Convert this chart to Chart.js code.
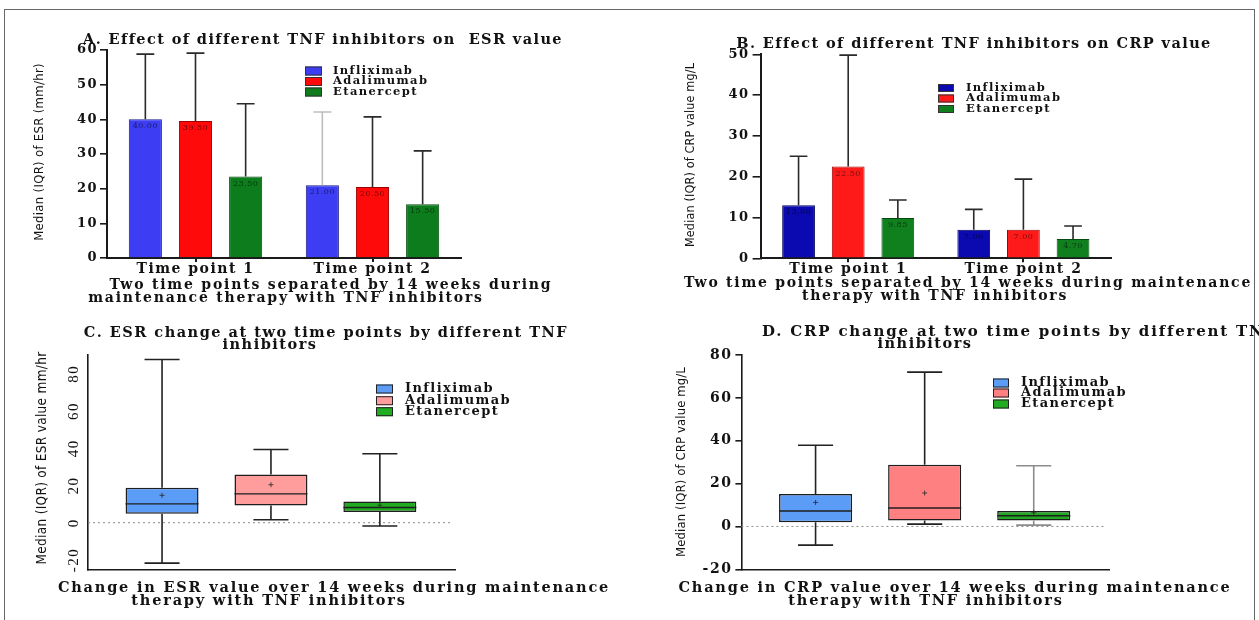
<!DOCTYPE html>
<html>
<head>
<meta charset="utf-8">
<script src="https://cdn.jsdelivr.net/npm/chart.js@4.4.1/dist/chart.umd.min.js"></script>
<style>
html, body { margin: 0; padding: 0; background: #fff; overflow: hidden; }
#page { position: relative; width: 1259px; height: 620px; overflow: hidden; }
#frame { position: absolute; left: 4px; top: 9px; width: 1251px; height: 700px; border: 1.5px solid #666; box-sizing: border-box; }
.panel { position: absolute; }
</style>
</head>
<body>
<div id="page">
  <div id="frame"></div>
  <div class="panel" style="left:0;top:0;width:620px;height:310px"><canvas id="chartA"></canvas></div>
  <div class="panel" style="left:620px;top:0;width:639px;height:310px"><canvas id="chartB"></canvas></div>
  <div class="panel" style="left:0;top:310px;width:620px;height:310px"><canvas id="chartC"></canvas></div>
  <div class="panel" style="left:620px;top:310px;width:639px;height:310px"><canvas id="chartD"></canvas></div>
</div>
<script>
// ---- data ----
var timePoints = ['Time point 1', 'Time point 2'];
var drugs = ['Infliximab', 'Adalimumab', 'Etanercept'];

// A. median ESR (mm/hr) and upper IQR end, per time point
var esrInfliximab = [40.0, 21.0];
var esrAdalimumab = [39.5, 20.5];
var esrEtanercept = [23.5, 15.5];
var esrInfliximabUpper = [58.8, 42.1];
var esrAdalimumabUpper = [59.1, 40.7];
var esrEtanerceptUpper = [44.5, 30.9];

// B. median CRP (mg/L) and upper IQR end, per time point
var crpInfliximab = [13.0, 7.0];
var crpAdalimumab = [22.5, 7.0];
var crpEtanercept = [9.85, 4.7];
var crpInfliximabUpper = [25.0, 12.0];
var crpAdalimumabUpper = [49.8, 19.4];
var crpEtanerceptUpper = [14.3, 7.9];

// C. ESR change over 14 weeks (box plots, in drug order)
var esrChangeMin    = [-21.7, 1.6, -1.8];
var esrChangeQ1     = [4.8, 9.2, 5.7];
var esrChangeMedian = [10.1, 15.5, 8.2];
var esrChangeQ3     = [18.7, 25.9, 11.4];
var esrChangeMax    = [87.6, 39.3, 37.0];
var esrChangeMean   = [14.7, 20.4, 9.4];

// D. CRP change over 14 weeks
var crpChangeMin    = [-8.7, 1.1, 0.6];
var crpChangeQ1     = [1.9, 2.8, 2.8];
var crpChangeMedian = [7.2, 8.6, 5.0];
var crpChangeQ3     = [15.1, 28.8, 7.2];
var crpChangeMax    = [37.9, 72.0, 28.3];
var crpChangeMean   = [11.2, 15.6, 6.4];

// axis ranges [min, max, step]
var esrAxis = [0, 60, 10];
var crpAxis = [0, 50, 10];
var esrChangeAxis = [-25, 90, 20];
var crpChangeAxis = [-20, 80, 20];

// ---- styles ----
var SERIF = "'DejaVu Serif', 'Liberation Serif', serif";
var NARROW = "'Liberation Sans Narrow', 'DejaVu Sans Condensed', 'Liberation Sans', sans-serif";
var INK = '#121212';

var colorsA = ['#3d3df4', '#ff0a0a', '#0c7c1c'];
var edgesA  = ['#1c1c8a', '#a00000', '#064a10'];
var colorsB = ['#0a0ab0', '#ff1a1a', '#10801e'];
var edgesB  = ['#00005a', '#a00000', '#064a10'];
var colorsC = ['#5b9cf6', '#ff9c9c', '#20ac20'];
var colorsD = ['#5b9cf6', '#ff8080', '#22aa22'];

Chart.defaults.font.family = SERIF;
Chart.defaults.color = INK;

// wide lettering, like the stretched original
var spacing = {
    id: 'spacing',
    beforeLayout: function(chart) { chart.ctx.letterSpacing = '1.5px'; },
    beforeDraw: function(chart) { chart.ctx.letterSpacing = '1.5px'; }
};

// titles, axis captions and the inside legend
var panelText = {
    id: 'panelText',
    afterDraw: function(chart, args, opts) {
        var ctx = chart.ctx;
        ctx.save();
        ctx.textBaseline = 'middle';
        (opts.lines || []).forEach(function(t) {
            ctx.save();
            ctx.font = (t.weight || 'bold') + ' ' + t.size + 'px ' + (t.family || SERIF);
            ctx.letterSpacing = t.ls + 'px';
            ctx.textAlign = t.align || 'center';
            ctx.fillStyle = INK;
            ctx.translate(t.x, t.y);
            if (t.rot) ctx.rotate(-Math.PI / 2);
            ctx.fillText(t.text, 0, 0);
            ctx.restore();
        });
        var lg = opts.legend;
        if (lg) {
            ctx.font = 'bold ' + lg.size + 'px ' + SERIF;
            ctx.letterSpacing = lg.ls + 'px';
            ctx.textAlign = 'left';
            lg.labels.forEach(function(label, i) {
                var y = lg.y[i];
                ctx.fillStyle = lg.colors[i];
                ctx.fillRect(lg.x, y - lg.h / 2, lg.w, lg.h);
                ctx.strokeStyle = lg.edge;
                ctx.lineWidth = 1;
                ctx.strokeRect(lg.x + 0.5, y - lg.h / 2 + 0.5, lg.w - 1, lg.h - 1);
                ctx.fillStyle = INK;
                ctx.fillText(label, lg.textX, y);
            });
        }
        ctx.restore();
    }
};

// upper IQR whisker and median label on each bar
var errorBars = {
    id: 'errorBars',
    afterDatasetsDraw: function(chart) {
        var ctx = chart.ctx, yScale = chart.scales.y;
        ctx.save();
        chart.data.datasets.forEach(function(ds, di) {
            var meta = chart.getDatasetMeta(di);
            meta.data.forEach(function(bar, i) {
                var top = yScale.getPixelForValue(ds.upper[i]);
                var cap = bar.width * 0.27;
                ctx.strokeStyle = ds.whiskerColor[i];
                ctx.lineWidth = 1.6;
                ctx.beginPath();
                ctx.moveTo(bar.x, bar.y);
                ctx.lineTo(bar.x, top);
                ctx.moveTo(bar.x - cap, top);
                ctx.lineTo(bar.x + cap, top);
                ctx.stroke();
                ctx.font = '8px ' + SERIF;
                ctx.letterSpacing = '0.5px';
                ctx.fillStyle = 'rgba(0,0,0,0.55)';
                ctx.textAlign = 'center';
                ctx.textBaseline = 'middle';
                ctx.fillText(ds.data[i].toFixed(2), bar.x, bar.y + 7);
            });
        });
        ctx.restore();
    }
};

// whiskers, median, mean and the dotted zero line of the box plots
var boxWhiskers = {
    id: 'boxWhiskers',
    beforeDatasetsDraw: function(chart) {
        var ctx = chart.ctx, area = chart.chartArea;
        var y0 = chart.scales.y.getPixelForValue(0);
        ctx.save();
        ctx.strokeStyle = '#8a8a8a';
        ctx.lineWidth = 1;
        ctx.setLineDash([2, 3]);
        ctx.beginPath();
        ctx.moveTo(area.left, y0);
        ctx.lineTo(area.right - 3, y0);
        ctx.stroke();
        ctx.restore();
    },
    afterDatasetsDraw: function(chart) {
        var ctx = chart.ctx, yScale = chart.scales.y;
        ctx.save();
        chart.data.datasets.forEach(function(ds, di) {
            var meta = chart.getDatasetMeta(di);
            var st = ds.stats;
            meta.data.forEach(function(box, i) {
                var half = box.width / 2, cap = box.width * 0.24;
                var pMin = yScale.getPixelForValue(st.min[i]);
                var pQ1 = yScale.getPixelForValue(st.q1[i]);
                var pQ3 = yScale.getPixelForValue(st.q3[i]);
                var pMax = yScale.getPixelForValue(st.max[i]);
                var pMed = yScale.getPixelForValue(st.median[i]);
                var pMean = yScale.getPixelForValue(st.mean[i]);
                ctx.strokeStyle = ds.whiskerColor[i];
                ctx.lineWidth = 1.6;
                ctx.beginPath();
                ctx.moveTo(box.x, pQ3); ctx.lineTo(box.x, pMax);
                ctx.moveTo(box.x - cap, pMax); ctx.lineTo(box.x + cap, pMax);
                ctx.moveTo(box.x, pQ1); ctx.lineTo(box.x, pMin);
                ctx.moveTo(box.x - cap, pMin); ctx.lineTo(box.x + cap, pMin);
                ctx.stroke();
                ctx.strokeStyle = '#1e1e1e';
                ctx.lineWidth = 1.4;
                ctx.beginPath();
                ctx.moveTo(box.x - half, pMed); ctx.lineTo(box.x + half, pMed);
                ctx.stroke();
                ctx.strokeStyle = 'rgba(40,40,40,0.8)';
                ctx.lineWidth = 1;
                ctx.beginPath();
                ctx.moveTo(box.x - 2.5, pMean); ctx.lineTo(box.x + 2.5, pMean);
                ctx.moveTo(box.x, pMean - 2.5); ctx.lineTo(box.x, pMean + 2.5);
                ctx.stroke();
            });
        });
        ctx.restore();
    }
};

function fixWidth(w) { return function(scale) { scale.width = w; }; }
function fixHeight(h) { return function(scale) { scale.height = h; }; }

function barDatasets(values, uppers, colors, edges, whiskers) {
    return drugs.map(function(name, i) {
        return {
            label: name,
            data: values[i],
            upper: uppers[i],
            whiskerColor: whiskers[i],
            backgroundColor: colors[i],
            borderColor: edges[i],
            borderWidth: 1,
            categoryPercentage: 0.85,
            barPercentage: 0.66
        };
    });
}

function barScales(axis, y) {
    return {
        x: {
            type: 'category',
            offset: true,
            grid: { display: true, drawOnChartArea: false, offset: false, tickLength: 4, color: '#1a1a1a', lineWidth: 2 },
            border: { display: true, color: '#1a1a1a', width: 2 },
            ticks: { font: { size: 14, weight: 'bold', lineHeight: 1 }, padding: 0, maxRotation: 0, color: INK },
            afterFit: fixHeight(20)
        },
        y: {
            min: axis[0], max: axis[1],
            grid: { display: true, drawOnChartArea: false, tickLength: y.tick, color: '#1a1a1a', lineWidth: 1.6 },
            border: { display: true, color: '#1a1a1a', width: 2 },
            ticks: { stepSize: axis[2], font: { size: 13, weight: 'bold' }, padding: y.pad, color: INK },
            afterFit: fixWidth(y.width)
        }
    };
}

function boxDataset(q1, q3, median, min, max, mean, colors, whiskers) {
    return {
        label: 'change',
        data: drugs.map(function(d, i) { return { x: i + 1, y: [q1[i], q3[i]] }; }),
        stats: { q1: q1, q3: q3, median: median, min: min, max: max, mean: mean },
        whiskerColor: whiskers,
        backgroundColor: colors,
        borderColor: '#1e1e1e',
        borderWidth: 1.5,
        borderSkipped: false,
        categoryPercentage: 1,
        barPercentage: 0.67
    };
}

function boxScales(axis, y) {
    return {
        x: {
            type: 'linear', min: 0.32, max: 3.69, offset: false,
            grid: { display: true, drawOnChartArea: false, drawTicks: false, offset: false },
            border: { display: true, color: '#1a1a1a', width: 1.6 },
            ticks: { display: false, stepSize: 1, includeBounds: false },
            afterFit: fixHeight(0)
        },
        y: {
            min: axis[0], max: axis[1],
            grid: { display: true, drawOnChartArea: false, drawTicks: y.drawTicks, tickLength: y.tick, color: '#1a1a1a', lineWidth: 1.6 },
            border: { display: true, color: '#1a1a1a', width: 1.6 },
            ticks: y.ticks,
            afterFit: fixWidth(y.width)
        }
    };
}

function opts(extra) {
    var o = { responsive: true, maintainAspectRatio: false, animation: false, devicePixelRatio: 1 };
    Object.keys(extra).forEach(function(k) { o[k] = extra[k]; });
    return o;
}

var noLib = { legend: { display: false }, title: { display: false }, tooltip: { enabled: false } };
function withText(text) { return Object.assign({ panelText: text }, noLib); }

// A
new Chart(document.getElementById('chartA'), {
    type: 'bar',
    data: {
        labels: timePoints,
        datasets: barDatasets(
            [esrInfliximab, esrAdalimumab, esrEtanercept],
            [esrInfliximabUpper, esrAdalimumabUpper, esrEtanerceptUpper],
            colorsA, edgesA,
            [['#2a2a2a', '#bdbdbd'], ['#2a2a2a', '#2a2a2a'], ['#2a2a2a', '#2a2a2a']])
    },
    options: opts({
        layout: { padding: { left: 20, top: 50, right: 159, bottom: 32 } },
        scales: barScales(esrAxis, { tick: 7, pad: 2, width: 87 }),
        plugins: withText({
            lines: [
                { text: 'A. Effect of different TNF inhibitors on  ESR value', x: 323, y: 40, size: 14.5, ls: 1.4 },
                { text: 'Median (IQR) of ESR (mm/hr)', x: 40, y: 152, size: 13, ls: 0.3, rot: true, weight: 'normal', family: NARROW },
                { text: 'Two time points separated by 14 weeks during', x: 331, y: 285, size: 14, ls: 1.8 },
                { text: 'maintenance therapy with TNF inhibitors', x: 286, y: 298, size: 14, ls: 1.8 }
            ],
            legend: { labels: drugs, colors: colorsA, edge: '#333', x: 305, w: 17, h: 9, textX: 333, y: [71, 81.5, 92], size: 11.5, ls: 1.4 }
        })
    }),
    plugins: [spacing, errorBars, panelText]
});

// B
new Chart(document.getElementById('chartB'), {
    type: 'bar',
    data: {
        labels: timePoints,
        datasets: barDatasets(
            [crpInfliximab, crpAdalimumab, crpEtanercept],
            [crpInfliximabUpper, crpAdalimumabUpper, crpEtanerceptUpper],
            colorsB, edgesB,
            [['#2a2a2a', '#2a2a2a'], ['#2a2a2a', '#2a2a2a'], ['#2a2a2a', '#2a2a2a']])
    },
    options: opts({
        layout: { padding: { left: 40, top: 54.3, right: 148, bottom: 31.7 } },
        scales: barScales(crpAxis, { tick: 8, pad: 3, width: 100.6 }),
        plugins: withText({
            lines: [
                { text: 'B. Effect of different TNF inhibitors on CRP value', x: 354, y: 44, size: 14.5, ls: 1.4 },
                { text: 'Median (IQR) of CRP value mg/L', x: 71, y: 155, size: 12.5, ls: 0.15, rot: true, weight: 'normal', family: NARROW },
                { text: 'Two time points separated by 14 weeks during maintenance', x: 348, y: 283, size: 14, ls: 1.75 },
                { text: 'therapy with TNF inhibitors', x: 315, y: 296, size: 14, ls: 1.75 }
            ],
            legend: { labels: drugs, colors: colorsB, edge: '#333', x: 318, w: 16, h: 8, textX: 346, y: [88, 98.5, 109], size: 11.5, ls: 1.4 }
        })
    }),
    plugins: [spacing, errorBars, panelText]
});

// C
new Chart(document.getElementById('chartC'), {
    type: 'bar',
    data: {
        datasets: [boxDataset(esrChangeQ1, esrChangeQ3, esrChangeMedian, esrChangeMin, esrChangeMax, esrChangeMean,
            colorsC, ['#222', '#222', '#222'])]
    },
    options: opts({
        layout: { padding: { left: 20, top: 45, right: 165, bottom: 50.7 } },
        scales: boxScales(esrChangeAxis, {
            drawTicks: false, tick: 0, width: 68,
            ticks: { stepSize: esrChangeAxis[2], includeBounds: false, minRotation: 90, maxRotation: 90, crossAlign: 'center', padding: 2,
                font: { family: "'Liberation Serif', serif", size: 15 }, color: INK }
        }),
        plugins: withText({
            lines: [
                { text: 'C. ESR change at two time points by different TNF', x: 326, y: 23, size: 14.5, ls: 1.5 },
                { text: 'inhibitors', x: 270, y: 35, size: 14.5, ls: 1.5 },
                { text: 'Median (IQR) of ESR value mm/hr', x: 42.5, y: 148, size: 13.5, ls: 0.3, rot: true, weight: 'normal', family: NARROW },
                { text: 'Change in ESR value over 14 weeks during maintenance', x: 334, y: 278, size: 14.5, ls: 1.8 },
                { text: 'therapy with TNF inhibitors', x: 269, y: 291, size: 14.5, ls: 1.8 }
            ],
            legend: { labels: drugs, colors: colorsC, edge: '#222', x: 376, w: 17, h: 9, textX: 405, y: [79, 90.7, 101.7], size: 13, ls: 1.4 }
        })
    }),
    plugins: [spacing, boxWhiskers, panelText]
});

// D
new Chart(document.getElementById('chartD'), {
    type: 'bar',
    data: {
        datasets: [boxDataset(crpChangeQ1, crpChangeQ3, crpChangeMedian, crpChangeMin, crpChangeMax, crpChangeMean,
            colorsD, ['#222', '#222', '#8c8c8c'])]
    },
    options: opts({
        layout: { padding: { left: 30, top: 45, right: 150, bottom: 50.7 } },
        scales: boxScales(crpChangeAxis, {
            drawTicks: true, tick: 6, width: 91.4,
            ticks: { stepSize: crpChangeAxis[2], padding: 3, font: { size: 14, weight: 'bold' }, color: INK }
        }),
        plugins: withText({
            lines: [
                { text: 'D. CRP change at two time points by different TNF', x: 142, y: 22, size: 15, ls: 1.8, align: 'left' },
                { text: 'inhibitors', x: 305, y: 34, size: 14.5, ls: 1.5 },
                { text: 'Median (IQR) of CRP value mg/L', x: 62, y: 152, size: 13, ls: 0.1, rot: true, weight: 'normal', family: NARROW },
                { text: 'Change in CRP value over 14 weeks during maintenance', x: 335, y: 278, size: 14.5, ls: 1.8 },
                { text: 'therapy with TNF inhibitors', x: 306, y: 291, size: 14.5, ls: 1.8 }
            ],
            legend: { labels: drugs, colors: colorsD, edge: '#222', x: 373, w: 16, h: 9, textX: 401, y: [73, 83, 94], size: 13, ls: 1.4 }
        })
    }),
    plugins: [spacing, boxWhiskers, panelText]
});
</script>
</body>
</html>
